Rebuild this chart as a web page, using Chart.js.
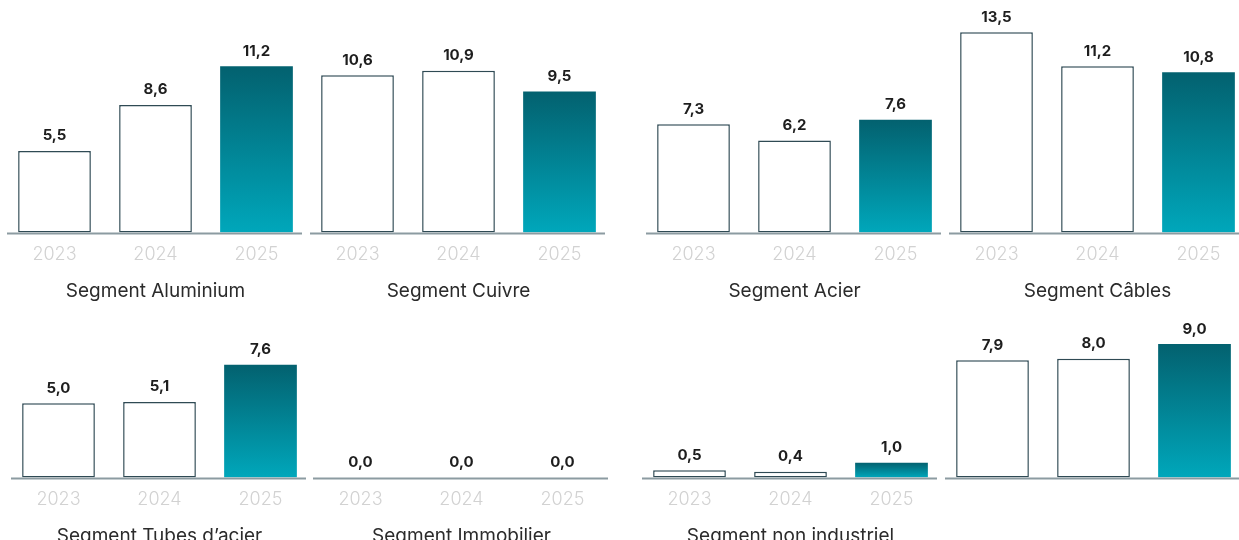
<!DOCTYPE html>
<html>
<head>
<meta charset="utf-8">
<script src="https://cdn.jsdelivr.net/npm/chart.js@4.4.1/dist/chart.umd.min.js"></script>
<style>
	html, body { margin: 0; padding: 0; background: #fff; }
	body { width: 1239px; height: 540px; overflow: hidden; position: relative; }
	.panel { position: absolute; width: 303px; height: 302px; }
</style>
</head>
<body>
<div class="panel" style="left:4px;top:1px"><canvas id="c0"></canvas></div>
<div class="panel" style="left:307px;top:1px"><canvas id="c1"></canvas></div>
<div class="panel" style="left:643px;top:1px"><canvas id="c2"></canvas></div>
<div class="panel" style="left:946px;top:1px"><canvas id="c3"></canvas></div>
<div class="panel" style="left:8px;top:246px"><canvas id="c4"></canvas></div>
<div class="panel" style="left:310px;top:246px"><canvas id="c5"></canvas></div>
<div class="panel" style="left:639px;top:246px"><canvas id="c6"></canvas></div>
<div class="panel" style="left:942px;top:246px"><canvas id="c7"></canvas></div>
<script>
/* global Chart */
const years = ['2023', '2024', '2025'];

const titles = [
	'Segment Aluminium',
	'Segment Cuivre',
	'Segment Acier',
	'Segment Câbles',
	'Segment Tubes d\u2019acier',
	'Segment Immobilier',
	'Segment non industriel',
	''
];

const aluminium = [5.5, 8.6, 11.2];
const cuivre = [10.6, 10.9, 9.5];
const acier = [7.3, 6.2, 7.6];
const cables = [13.5, 11.2, 10.8];
const tubes = [5.0, 5.1, 7.6];
const immobilier = [0.0, 0.0, 0.0];
const nonIndustriel = [0.5, 0.4, 1.0];
const autre = [7.9, 8.0, 9.0];

const series = [aluminium, cuivre, acier, cables, tubes, immobilier, nonIndustriel, autre];

const FONT = 'Inter, "Noto Sans", sans-serif';

// dégradé de la barre 2025
function barFill(ctx) {
	if (ctx.dataIndex !== 2) return '#ffffff';
	const chart = ctx.chart;
	if (!chart.chartArea || !chart.scales.y) return '#01899b';
	const y = chart.scales.y;
	const top = y.getPixelForValue(ctx.raw);
	const bottom = y.getPixelForValue(0);
	if (bottom - top < 1) return '#01899b';
	const g = chart.ctx.createLinearGradient(0, top, 0, bottom);
	g.addColorStop(0, '#03616f');
	g.addColorStop(1, '#00a7bb');
	return g;
}

// ligne de base, un peu plus courte que la zone du graphique
const baseLine = {
	id: 'baseLine',
	afterDatasetsDraw(chart) {
		const ctx = chart.ctx;
		const area = chart.chartArea;
		const y = chart.scales.y.getPixelForValue(0) + 1;
		ctx.save();
		ctx.strokeStyle = '#8c9ba1';
		ctx.lineWidth = 2;
		ctx.beginPath();
		ctx.moveTo(area.left + 3, y);
		ctx.lineTo(area.right - 5, y);
		ctx.stroke();
		ctx.restore();
	}
};

const valueLabels = {
	id: 'valueLabels',
	afterDatasetsDraw(chart) {
		const ctx = chart.ctx;
		const meta = chart.getDatasetMeta(0);
		ctx.save();
		ctx.font = '700 15px ' + FONT;
		ctx.fillStyle = '#1e1e1e';
		ctx.textAlign = 'center';
		ctx.textBaseline = 'middle';
		meta.data.forEach((bar, i) => {
			const v = chart.data.datasets[0].data[i];
			ctx.fillText(v.toFixed(1).replace('.', ','), bar.x, bar.y - 15);
		});
		ctx.restore();
	}
};

series.forEach((values, i) => {
	const canvas = document.getElementById('c' + i);
	const hidden = 'rgba(0,0,0,0)';
	const hasTitle = titles[i] !== '';
	new Chart(canvas, {
		type: 'bar',
		data: {
			labels: years,
			datasets: [{
				data: values,
				backgroundColor: barFill,
				borderColor: (c) => (c.dataIndex === 2 ? hidden : '#2f4a54'),
				borderWidth: (c) => (c.dataIndex === 2 ? 0 : 1.5),
				borderSkipped: false,
				barPercentage: 0.8,
				categoryPercentage: 0.9
			}]
		},
		options: {
			responsive: true,
			maintainAspectRatio: false,
			animation: false,
			layout: { padding: 0 },
			plugins: {
				legend: { display: false },
				tooltip: { enabled: false }
			},
			scales: {
				y: {
					display: false,
					min: 0,
					max: 15.6
				},
				x: {
					grid: { display: false, drawTicks: false },
					border: { display: false },
					ticks: {
						padding: 11,
						color: hasTitle ? '#d2d2d2' : hidden,
						font: { family: FONT, size: 18, weight: '300' }
					},
					title: {
						display: true,
						text: hasTitle ? titles[i] : '-',
						color: hasTitle ? '#2b2b2b' : hidden,
						padding: { top: 4, bottom: 0 },
						font: { family: FONT, size: 19, weight: '400' }
					}
				}
			}
		},
		plugins: [baseLine, valueLabels]
	});
});
</script>
</body>
</html>
